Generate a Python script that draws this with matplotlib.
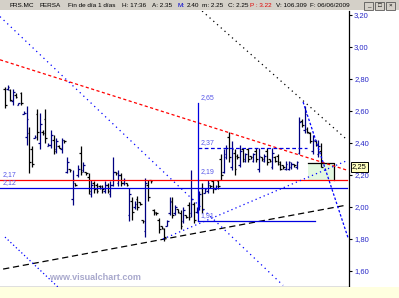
import matplotlib
matplotlib.use('Agg')
import matplotlib.pyplot as plt
import matplotlib.transforms as mtrans
from matplotlib.patches import Rectangle
import numpy as np

plt.rcParams['font.family'] = ['Liberation Sans', 'DejaVu Sans']

# daily bars, 17 Dec 2008 .. 5 Jun 2009 (trading-day index)
opens = [2.74, 2.74, 2.73, 2.66, 2.70, 2.64, 2.71, 2.58, 2.44, 2.46,
         2.36, 2.43, 2.58, 2.40, 2.47, 2.55, 2.38, 2.39, 2.42, 2.36,
         2.38, 2.36, 2.42, 2.22, 2.24, 2.05, 2.15, 2.20, 2.34, 2.23,
         2.22, 2.19, 2.08, 2.15, 2.14, 2.13, 2.13, 2.10, 2.14, 2.08,
         2.14, 2.22, 2.15, 2.20, 2.15, 2.15, 1.95, 2.04, 2.00, 2.05,
         2.03, 1.92, 1.85, 2.14, 2.17, 1.98, 1.97, 1.92, 1.88, 1.86,
         1.88, 1.96, 2.04, 1.96, 1.99, 1.96, 1.91, 1.95, 2.01, 1.96,
         2.02, 1.97, 1.99, 2.12, 2.09, 2.10, 2.14, 2.16, 2.11, 2.16,
         2.30, 2.22, 2.31, 2.44, 2.25, 2.34, 2.32, 2.26, 2.36, 2.29,
         2.36, 2.32, 2.29, 2.35, 2.24, 2.31, 2.29, 2.35, 2.30, 2.25,
         2.31, 2.32, 2.28, 2.26, 2.24, 2.24, 2.25, 2.27, 2.25, 2.34,
         2.54, 2.48, 2.49, 2.46, 2.35, 2.41, 2.33, 2.35]
highs = [2.75, 2.76, 2.74, 2.74, 2.71, 2.65, 2.72, 2.60, 2.63, 2.50,
         2.38, 2.45, 2.61, 2.59, 2.48, 2.61, 2.40, 2.48, 2.45, 2.43,
         2.39, 2.43, 2.42, 2.31, 2.24, 2.23, 2.15, 2.26, 2.38, 2.28,
         2.22, 2.21, 2.17, 2.16, 2.15, 2.14, 2.14, 2.16, 2.15, 2.16,
         2.31, 2.22, 2.23, 2.21, 2.18, 2.15, 2.12, 2.06, 2.04, 2.07,
         2.03, 1.92, 2.18, 2.17, 2.17, 1.99, 1.97, 1.93, 1.88, 1.87,
         1.92, 2.06, 2.06, 2.01, 1.99, 1.98, 2.00, 1.95, 2.03, 2.23,
         2.03, 2.00, 2.10, 2.15, 2.12, 2.17, 2.14, 2.17, 2.14, 2.17,
         2.33, 2.36, 2.39, 2.47, 2.41, 2.36, 2.33, 2.39, 2.37, 2.34,
         2.37, 2.32, 2.34, 2.37, 2.37, 2.31, 2.33, 2.37, 2.30, 2.37,
         2.32, 2.33, 2.29, 2.26, 2.29, 2.29, 2.28, 2.27, 2.29, 2.56,
         2.55, 2.63, 2.50, 2.47, 2.45, 2.42, 2.42, 2.40]
lows = [2.62, 2.73, 2.66, 2.64, 2.68, 2.64, 2.64, 2.58, 2.39, 2.21,
        2.25, 2.43, 2.42, 2.36, 2.45, 2.40, 2.38, 2.37, 2.33, 2.34,
        2.37, 2.34, 2.40, 2.21, 2.22, 2.01, 2.13, 2.19, 2.20, 2.22,
        2.20, 2.08, 2.06, 2.09, 2.09, 2.11, 2.09, 2.09, 2.09, 2.06,
        2.13, 2.20, 2.13, 2.13, 2.14, 2.13, 1.91, 1.92, 1.99, 1.98,
        2.01, 1.90, 1.81, 2.04, 2.15, 1.95, 1.95, 1.84, 1.86, 1.79,
        1.88, 1.95, 1.93, 1.95, 1.96, 1.86, 1.90, 1.93, 1.92, 1.94,
        1.90, 1.96, 1.98, 1.96, 2.09, 2.09, 2.12, 2.09, 2.11, 2.11,
        2.17, 2.21, 2.30, 2.28, 2.23, 2.20, 2.30, 2.25, 2.28, 2.28,
        2.28, 2.30, 2.28, 2.28, 2.22, 2.29, 2.28, 2.26, 2.28, 2.24,
        2.28, 2.26, 2.23, 2.24, 2.23, 2.23, 2.24, 2.25, 2.24, 2.33,
        2.50, 2.46, 2.46, 2.40, 2.33, 2.38, 2.31, 2.25]
closes = [2.64, 2.75, 2.67, 2.72, 2.69, 2.65, 2.65, 2.59, 2.55, 2.28,
          2.27, 2.44, 2.47, 2.52, 2.46, 2.43, 2.39, 2.45, 2.35, 2.41,
          2.37, 2.42, 2.41, 2.28, 2.23, 2.17, 2.14, 2.24, 2.22, 2.26,
          2.21, 2.10, 2.14, 2.11, 2.10, 2.12, 2.11, 2.14, 2.10, 2.14,
          2.22, 2.21, 2.20, 2.15, 2.17, 2.14, 2.08, 1.97, 2.02, 2.00,
          2.02, 1.91, 2.15, 2.06, 2.16, 1.96, 1.96, 1.86, 1.87, 1.81,
          1.91, 2.03, 1.95, 2.00, 1.97, 1.88, 1.98, 1.94, 1.94, 2.05,
          1.92, 1.99, 2.08, 1.99, 2.11, 2.15, 2.13, 2.12, 2.13, 2.13,
          2.20, 2.33, 2.37, 2.31, 2.36, 2.24, 2.31, 2.35, 2.30, 2.33,
          2.30, 2.31, 2.33, 2.30, 2.32, 2.30, 2.32, 2.28, 2.29, 2.34,
          2.29, 2.27, 2.24, 2.25, 2.27, 2.28, 2.27, 2.26, 2.28, 2.53,
          2.51, 2.58, 2.47, 2.41, 2.42, 2.39, 2.38, 2.25]

month_days = [10, 31, 51, 73, 93, 113]
month_labels = ['09', 'Feb', 'Mar', 'Abr', 'May', 'Jun']

# drawn studies: (days), (prices)
red_trend = ([-1.85, 126.7], [2.92, 2.23])
black_support = ([-0.7, 125.9], [1.612, 2.01])
blue_rising = ([58.5, 126.7], [1.80, 2.29])
blue_fall_long = ([-1.85, 103.0], [3.19, 1.51])
blue_fall_low = ([0.0, 19.6], [1.812, 1.50])
black_fall_top = ([73.0, 126.7], [3.225, 2.42])
blue_fall_steep = ([110.4, 127.0], [2.656, 1.81])
red_level = 2.17
blue_level = 2.12
lines_end = 126.7
fib_day = 71.5
fib_levels = [2.65, 2.37, 2.19, 1.91]
fib_labels = ['2,65', '2,37', '2,19', '1,91']
box_days = [112.2, 121.9]
box_prices = [2.17, 2.275]
last_close = 2.25

W, H = 399, 298
fig = plt.figure(figsize=(W / 100, H / 100), dpi=100)
fig.patch.set_facecolor('white')
fig.patches.append(Rectangle((0, 1 - 10 / H), 1, 10 / H, transform=fig.transFigure,
                             facecolor='#D4D0C8', edgecolor='none', zorder=0))
fig.patches.append(Rectangle((0, 0), 1, 11 / H, transform=fig.transFigure,
                             facecolor='#FFFFE0', edgecolor='none', zorder=0))

ax = fig.add_axes([0, 11 / H, 349 / W, 276 / H])
ax.set_facecolor('white')
ax.set_xlim(-1.85, 127.4)
ax.set_ylim(1.5, 3.225)
for s in ['top', 'left']:
    ax.spines[s].set_visible(False)
ax.spines['right'].set_linewidth(0.9)
ax.spines['bottom'].set_linewidth(0.9)

# bars
days = np.arange(len(closes))
o = np.array(opens); c = np.array(closes)
cols = np.where(c >= o, '#000080', '#000000')
ax.vlines(days, lows, highs, colors=cols, lw=0.9, zorder=3)
ax.hlines(o, days - 0.6, days, colors=cols, lw=0.9, zorder=3)
ax.hlines(c, days, days + 0.6, colors=cols, lw=0.9, zorder=3)

# box
ax.add_patch(Rectangle((box_days[0], box_prices[0]), box_days[1] - box_days[0],
                       box_prices[1] - box_prices[0], facecolor='#E2F8E0',
                       edgecolor='none', zorder=1))
ax.plot([box_days[0], box_days[1], box_days[1]],
        [box_prices[1], box_prices[1], box_prices[0]], color='black', lw=0.9, zorder=4)

# horizontal levels
x0 = ax.get_xlim()[0]
ax.plot([x0, lines_end], [red_level, red_level], color='#FF0000', lw=0.9, zorder=4)
ax.plot([x0, lines_end], [blue_level, blue_level], color='#0000E0', lw=0.9, zorder=4)

# trend lines
ax.plot(*red_trend, color='#FF0000', lw=0.9, ls=(0, (2.5, 2)), zorder=4)
ax.plot(*black_support, color='black', lw=0.9, ls=(0, (5, 3)), zorder=4)
ax.plot(*blue_rising, color='#0000FF', lw=0.9, ls=(0, (1, 2.5)), zorder=4)
ax.plot(*blue_fall_long, color='#0000FF', lw=0.9, ls=(0, (1, 3)), zorder=4)
ax.plot(*blue_fall_low, color='#0000FF', lw=0.9, ls=(0, (1, 2)), zorder=4)
ax.plot(*black_fall_top, color='black', lw=0.9, ls=(0, (1, 3)), zorder=4)
ax.plot(*blue_fall_steep, color='#0000FF', lw=0.9, ls=(0, (2, 1.5)), zorder=4)

# fibonacci study
ax.plot([fib_day, fib_day], [fib_levels[-1], fib_levels[0]], color='#0000E0', lw=0.9, zorder=4)
ax.plot([fib_day, 114.8], [fib_levels[-1], fib_levels[-1]], color='#0000E0', lw=0.9, zorder=4)
ax.plot([fib_day, 111.9], [fib_levels[1], fib_levels[1]], color='#0000E0', lw=0.9,
        ls=(0, (3, 2)), zorder=4)
for lv, lb in zip(fib_levels, fib_labels):
    ax.text(fib_day + 0.8, lv + 0.012, lb, fontsize=5, color='#5858E8',
            va='bottom', ha='left', zorder=5)
ax.text(-0.8, red_level + 0.01, '2,17', fontsize=5, color='#5858E8', va='bottom', zorder=5)
ax.text(-0.8, blue_level + 0.01, '2,12', fontsize=5, color='#5858E8', va='bottom', zorder=5)

# axes ticks
ax.yaxis.tick_right()
yt = np.arange(1.6, 3.21, 0.2)
ax.set_yticks(yt)
ax.set_yticklabels([f'{v:.2f}'.replace('.', ',') for v in yt])
ax.tick_params(axis='y', direction='out', length=2.5, width=0.8, pad=1.2,
               labelsize=5.5, labelcolor='#2828C8')
ax.set_xticks(month_days)
ax.set_xticklabels(month_labels)
ax.tick_params(axis='x', direction='out', length=4, width=0.8, pad=-3.5,
               labelsize=5.5, labelcolor='#303000')
off = mtrans.ScaledTranslation(1.5 / 100, 0, fig.dpi_scale_trans)
for lab in ax.get_xticklabels():
    lab.set_horizontalalignment('left')
    lab.set_transform(lab.get_transform() + off)

# last price marker
tr = mtrans.blended_transform_factory(ax.transAxes, ax.transData)
ax.text(1.008, last_close, '2,25', transform=tr, fontsize=5.5, color='black',
        va='center', ha='left', zorder=6,
        bbox=dict(boxstyle='square,pad=0.15', facecolor='#FFFFC0', edgecolor='black', lw=0.7))

# watermark
ax.text(0.14, 0.035, 'www.visualchart.com', transform=ax.transAxes, fontsize=6.5,
        fontweight='bold', color='#A8A8CC', va='center', ha='left', zorder=2)

# title bar
title_parts = [('FRS.MC', 9, 'black'), ('FERSA', 40, 'black'),
               ('Fin de día 1 días', 68, 'black'), ('H: 17:36', 122, 'black'),
               ('A: 2.35', 152, 'black'), ('M:', 177, '#0000D0'), ('2.40', 187, 'black'),
               ('m: 2.25', 202, 'black'), ('C: 2.25', 228, 'black'),
               ('P : 3.22', 250, '#E00000'), ('V: 106.309', 276, 'black'),
               ('F: 06/06/2009', 310, 'black')]
for txt, px, col in title_parts:
    fig.text(px / W, 1 - 5.5 / H, txt, fontsize=4.6, color=col, va='center', ha='left')
for i, g in enumerate(['_', '□', '×']):
    bx = 364 + i * 11
    fig.patches.append(Rectangle((bx / W, 1 - 9.5 / H), 9 / W, 8 / H,
                                 transform=fig.transFigure, facecolor='#D4D0C8',
                                 edgecolor='#404040', lw=0.5, zorder=1))
    fig.text((bx + 4.5) / W, 1 - 5.5 / H, g, fontsize=4.5, ha='center', va='center')

fig.savefig('out.png', dpi=100)
